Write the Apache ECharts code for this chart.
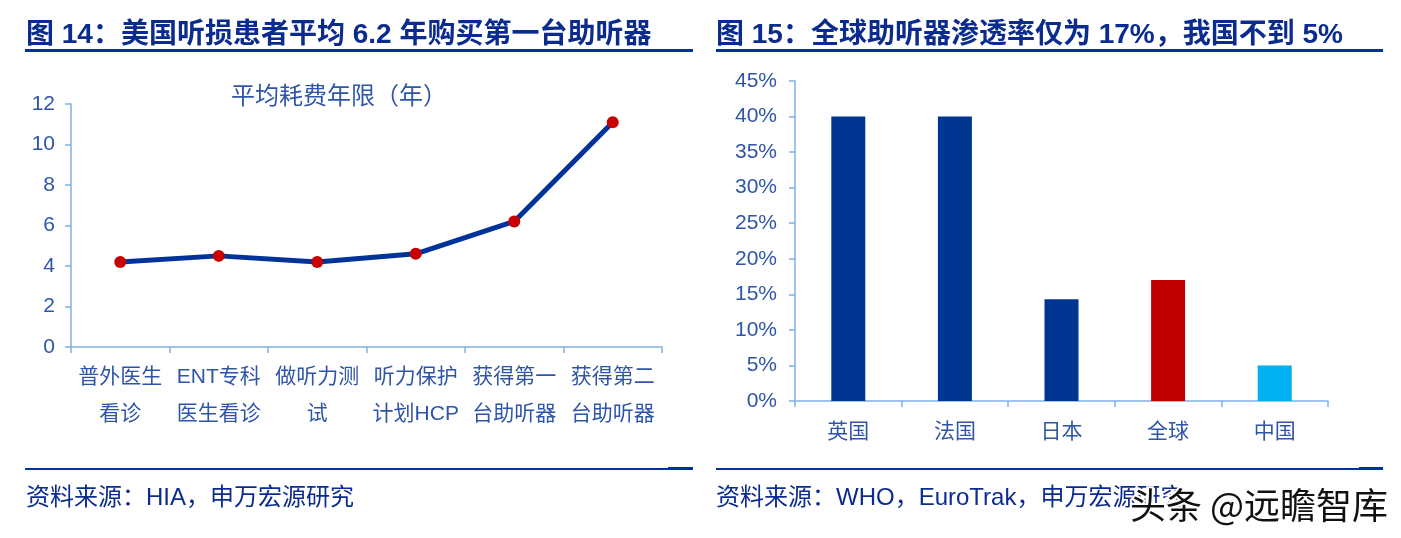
<!DOCTYPE html>
<html>
<head>
<meta charset="utf-8">
<script src="https://cdn.jsdelivr.net/npm/echarts@6/dist/echarts.min.js"></script>
<style>
html,body{margin:0;padding:0;background:#fff;}
#c{width:1401px;height:538px;}
</style>
</head>
<body>
<div id="c"></div>
<script>
// ---- data ----
const leftTitle = '图 14：美国听损患者平均 6.2 年购买第一台助听器';
const rightTitle = '图 15：全球助听器渗透率仅为 17%，我国不到 5%';
const leftChartName = '平均耗费年限（年）';
const leftCategories = ['普外医生\n看诊', 'ENT专科\n医生看诊', '做听力测\n试', '听力保护\n计划HCP', '获得第一\n台助听器', '获得第二\n台助听器'];
const leftValues = [4.2, 4.5, 4.2, 4.6, 6.2, 11.1];
const rightCategories = ['英国', '法国', '日本', '全球', '中国'];
const rightValues = [40, 40, 14.3, 17, 5];
const leftSource = '资料来源：HIA，申万宏源研究';
const rightSource = '资料来源：WHO，EuroTrak，申万宏源研究';
const watermark = '头条 @远瞻智库';

// ---- styles ----
const barColors = ['#003591', '#003591', '#003591', '#c00000', '#00b0f0'];
const titleColor = '#0b2c8e';
const labelColor = '#2f55a8';
const axisColor = '#7fb1e3';
const lineBlue = '#003399';
const latinCJK = '"Liberation Sans", "Noto Sans CJK SC", sans-serif';
const narrow = '"Liberation Sans Narrow", "Liberation Sans", sans-serif';

const chart = echarts.init(document.getElementById('c'), null, {renderer: 'canvas'});

function rect(x, y, w, h, color) {
  return {type: 'rect', shape: {x: x, y: y, width: w, height: h}, style: {fill: color}, silent: true};
}
function txt(x, y, text, size, color, weight, extra) {
  return {
    type: 'text', x: x, y: y, silent: true,
    style: Object.assign({text: text, fill: color, fontSize: size, fontWeight: weight || 'normal',
      fontFamily: latinCJK, textVerticalAlign: 'middle', verticalAlign: 'middle'}, extra || {})
  };
}

const option = {
  animation: false,
  backgroundColor: '#fff',
  graphic: [
    txt(26, 35, leftTitle, 28, titleColor, 'bold'),
    txt(716, 35, rightTitle, 28, titleColor, 'bold'),
    rect(25, 49, 668, 3, lineBlue),
    rect(716, 49, 667, 3, lineBlue),
    rect(25, 468, 643, 2, lineBlue),
    rect(668, 467, 25, 3, lineBlue),
    rect(716, 468, 643, 2, lineBlue),
    rect(1359, 467, 24, 3, lineBlue),
    txt(26, 498, leftSource, 24, titleColor, 'normal'),
    txt(716, 498, rightSource, 24, titleColor, 'normal'),
    txt(339, 97, leftChartName, 24, labelColor, 'normal', {textAlign: 'center', align: 'center'}),
    {
      type: 'text', x: 1130, y: 505, silent: true, z: 100,
      style: {text: watermark, fill: '#111', stroke: '#fff', lineWidth: 4, fontSize: 36,
        fontFamily: '"Noto Sans CJK SC", sans-serif', verticalAlign: 'middle', textVerticalAlign: 'middle'}
    }
  ],
  grid: [
    {left: 71, top: 104, width: 591, height: 243},
    {left: 795, top: 81, width: 533, height: 320}
  ],
  xAxis: [
    {
      type: 'category', gridIndex: 0, data: leftCategories,
      axisLine: {lineStyle: {color: axisColor, width: 1.5}},
      axisTick: {show: true, length: 6, lineStyle: {color: axisColor, width: 1.5}},
      axisLabel: {color: labelColor, fontSize: 21, lineHeight: 37, margin: 12, interval: 0,
        fontFamily: latinCJK}
    },
    {
      type: 'category', gridIndex: 1, data: rightCategories,
      axisLine: {lineStyle: {color: axisColor, width: 1.5}},
      axisTick: {show: true, length: 6, lineStyle: {color: axisColor, width: 1.5}},
      axisLabel: {color: labelColor, fontSize: 21, margin: 21, interval: 0, fontFamily: latinCJK}
    }
  ],
  yAxis: [
    {
      type: 'value', gridIndex: 0, min: 0, max: 12, interval: 2,
      splitLine: {show: false},
      axisLine: {show: true, lineStyle: {color: axisColor, width: 1.5}},
      axisTick: {show: true, length: 6, lineStyle: {color: axisColor, width: 1.5}},
      axisLabel: {color: labelColor, fontSize: 21, margin: 16, fontFamily: narrow}
    },
    {
      type: 'value', gridIndex: 1, min: 0, max: 45, interval: 5,
      splitLine: {show: false},
      axisLine: {show: true, lineStyle: {color: axisColor, width: 1.5}},
      axisTick: {show: true, length: 6, lineStyle: {color: axisColor, width: 1.5}},
      axisLabel: {color: labelColor, fontSize: 21, margin: 18, fontFamily: narrow, formatter: '{value}%'}
    }
  ],
  series: [
    {
      type: 'line', xAxisIndex: 0, yAxisIndex: 0, data: leftValues,
      lineStyle: {color: lineBlue, width: 5},
      symbol: 'circle', symbolSize: 12,
      itemStyle: {color: '#c80000', borderWidth: 0},
      z: 5
    },
    {
      type: 'bar', xAxisIndex: 1, yAxisIndex: 1, data: rightValues,
      barWidth: 34,
      itemStyle: {color: function (p) { return barColors[p.dataIndex]; }}
    }
  ]
};
chart.setOption(option);
</script>
</body>
</html>
